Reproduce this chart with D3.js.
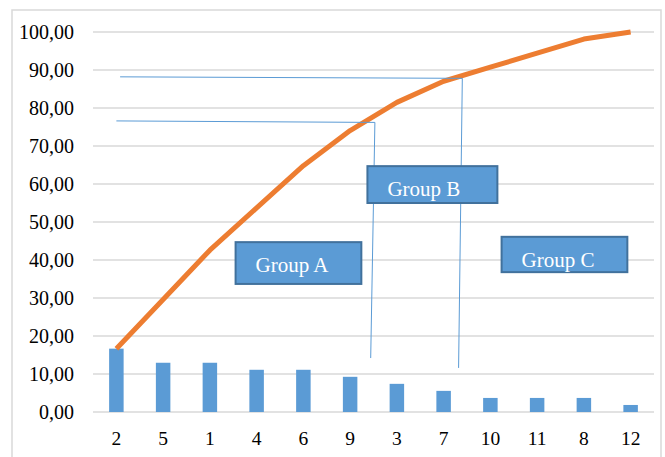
<!DOCTYPE html>
<html>
<head>
<meta charset="utf-8">
<script src="https://cdn.jsdelivr.net/npm/d3@7"></script>
<style>
  html, body { margin: 0; padding: 0; background: #fff; }
  svg { display: block; }
  text { font-family: "Liberation Serif", "Times New Roman", serif; }
</style>
</head>
<body>
<svg id="chart" width="665" height="457"></svg>
<script>
// ---- data ----
const categories = ["2", "5", "1", "4", "6", "9", "3", "7", "10", "11", "8", "12"];
const shares = [16.67, 12.96, 12.96, 11.11, 11.11, 9.26, 7.41, 5.56, 3.70, 3.70, 3.70, 1.85];
const cumulative = [16.67, 29.63, 42.59, 53.70, 64.81, 74.07, 81.48, 87.04, 90.74, 94.44, 98.15, 100.00];
const yTicks = [0, 10, 20, 30, 40, 50, 60, 70, 80, 90, 100];

// annotation guide lines (x in category-index units, y in value units)
const guideLevels = [76.6, 88.2];
const guideStartIndex = [0.0, 0.08];
const guideTopIndex = [5.53, 7.4];
const guideBottomIndex = [5.44, 7.32];
const guideBottomValue = [14.2, 11.6];

// group label boxes (index units / value units)
const groupNames = ["Group A", "Group B", "Group C"];
const groupIndex0 = [2.55, 5.37, 8.24];
const groupIndex1 = [5.24, 8.15, 10.93];
const groupTop = [44.7, 64.7, 46.1];
const groupBottom = [33.7, 55.0, 36.8];

// ---- layout ----
const svg = d3.select("#chart");
const plotLeft = 93, plotRight = 654, plotTop = 32, plotBottom = 412;

const x = d3.scaleBand().domain(categories).range([plotLeft, plotRight]).padding(0);
const y = d3.scaleLinear().domain([0, 100]).range([plotBottom, plotTop]);
const xi = d3.scaleLinear().domain([0, categories.length - 1])
  .range([x(categories[0]) + x.bandwidth() / 2, x(categories[categories.length - 1]) + x.bandwidth() / 2]);

// chart border
svg.append("rect")
  .attr("x", 12).attr("y", 10).attr("width", 649).attr("height", 470)
  .attr("fill", "none").attr("stroke", "#D9D9D9").attr("stroke-width", 1.5);

// gridlines
svg.append("g").selectAll("line").data(yTicks).join("line")
  .attr("x1", plotLeft).attr("x2", plotRight)
  .attr("y1", d => y(d)).attr("y2", d => y(d))
  .attr("stroke", "#D9D9D9").attr("stroke-width", 1.5);

// y axis labels
const fmt = d => d3.format(".2f")(d).replace(".", ",");
svg.append("g").selectAll("text").data(yTicks).join("text")
  .attr("x", 74).attr("y", d => y(d)).attr("dy", "0.36em")
  .attr("text-anchor", "end")
  .attr("font-size", "20px").attr("fill", "#000")
  .text(fmt);

// x axis labels
svg.append("g").selectAll("text").data(categories).join("text")
  .attr("x", d => x(d) + x.bandwidth() / 2).attr("y", 445)
  .attr("text-anchor", "middle")
  .attr("font-size", "19.5px").attr("fill", "#000")
  .text(d => d);

// bars
const bw = x.bandwidth() * 0.31;
svg.append("g").selectAll("rect").data(shares).join("rect")
  .attr("x", (d, i) => x(categories[i]) + x.bandwidth() / 2 - bw / 2)
  .attr("width", bw)
  .attr("y", d => y(d))
  .attr("height", d => y(0) - y(d))
  .attr("fill", "#5B9BD5");

// cumulative line
const line = d3.line()
  .x((d, i) => x(categories[i]) + x.bandwidth() / 2)
  .y(d => y(d));
svg.append("path").datum(cumulative)
  .attr("d", line)
  .attr("fill", "none")
  .attr("stroke", "#ED7D31")
  .attr("stroke-width", 5)
  .attr("stroke-linejoin", "round");

// guide lines
const guides = svg.append("g").attr("stroke", "#5B9BD5").attr("stroke-width", 1).attr("fill", "none");
guideLevels.forEach((lv, i) => {
  guides.append("line")
    .attr("x1", xi(guideStartIndex[i])).attr("y1", y(lv))
    .attr("x2", xi(guideTopIndex[i])).attr("y2", y(lv) + 1.5);
  guides.append("line")
    .attr("x1", xi(guideTopIndex[i])).attr("y1", y(lv) + 1.5)
    .attr("x2", xi(guideBottomIndex[i])).attr("y2", y(guideBottomValue[i]));
});

// group boxes
groupNames.forEach((name, i) => {
  const bx = xi(groupIndex0[i]), by = y(groupTop[i]);
  const bwid = xi(groupIndex1[i]) - bx, bh = y(groupBottom[i]) - by;
  svg.append("rect")
    .attr("x", bx).attr("y", by).attr("width", bwid).attr("height", bh)
    .attr("fill", "#5B9BD5").attr("stroke", "#41719C").attr("stroke-width", 2);
  svg.append("text")
    .attr("x", bx + 20).attr("y", by + 30)
    .attr("font-size", "21px").attr("fill", "#fff")
    .text(name);
});
</script>
</body>
</html>
